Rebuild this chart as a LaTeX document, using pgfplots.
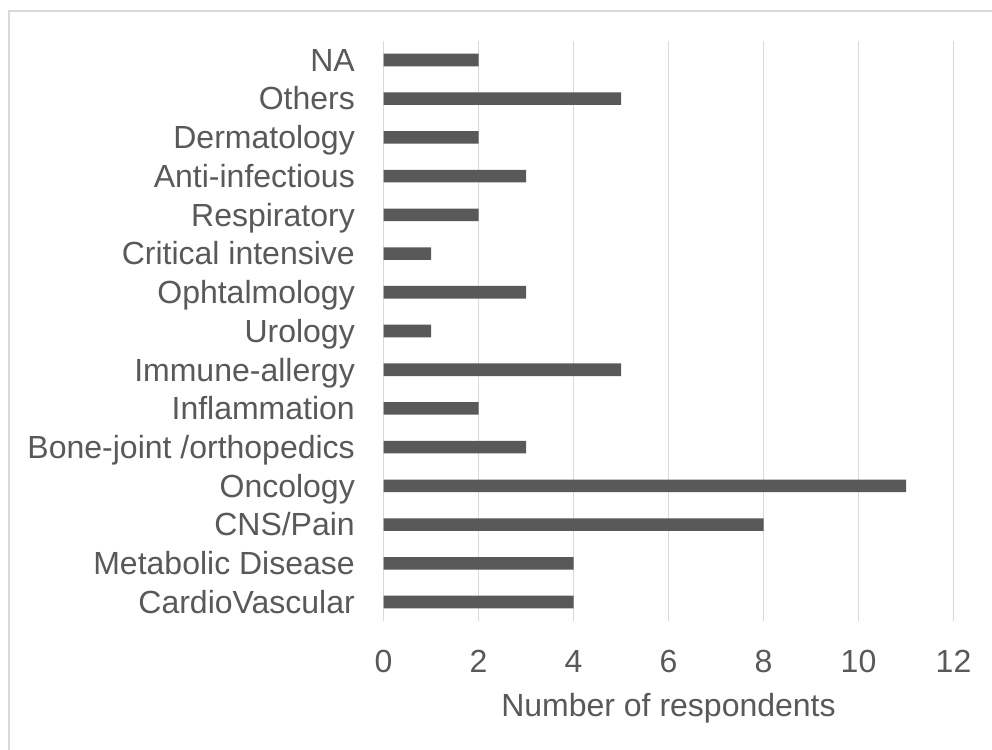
\documentclass[border=0pt]{standalone}
\usepackage{pgfplots}
\pgfplotsset{compat=1.18}
\usepackage{fontspec}
\setmainfont{Liberation Sans}
\definecolor{txt}{HTML}{595959}
\definecolor{barc}{HTML}{595959}
\definecolor{gridc}{HTML}{D9D9D9}
\begin{document}
\begin{tikzpicture}[x=1pt,y=1pt]
\useasboundingbox (0,0) rectangle (992,749);
\fill[white] (0,0) rectangle (992,749);
\draw[gridc, line width=1.5pt] (9,-5) -- (9,738) -- (1000,738);
\begin{axis}[
  at={(383.5pt,127.6pt)}, anchor=south west, scale only axis,
  width=570pt, height=580.8pt,
  xmin=0, xmax=12, ymin=-0.5, ymax=14.5,
  axis line style={draw=none},
  major tick length=0pt, tick style={draw=none},
  xtick={0,2,4,6,8,10,12},
  xticklabels={0,2,4,6,8,10,12},
  ytick={0,...,14},
  yticklabels={CardioVascular, Metabolic Disease, CNS/Pain, Oncology, Bone-joint /orthopedics, Inflammation, Immune-allergy, Urology, Ophtalmology, Critical intensive, Respiratory, Anti-infectious, Dermatology, Others, NA},
  xmajorgrids, ymajorgrids=false,
  grid style={gridc, line width=1.3pt},
  ticklabel style={font=\fontsize{32}{38}\selectfont, text=txt},
  yticklabel style={anchor=base east, inner sep=0pt, xshift=-28.5pt, yshift=-11.3pt},
  xticklabel style={anchor=base, inner sep=0pt, yshift=-50.6pt},
  xlabel={Number of respondents},
  xlabel style={at={(axis description cs:0.5,0)}, anchor=base, inner sep=0pt, yshift=-94.6pt, font=\fontsize{32}{38}\selectfont, text=txt},
  xbar, bar width=12.6pt,
]
\addplot[fill=barc, draw=none] coordinates {
  (4,0) (4,1) (8,2) (11,3) (3,4) (2,5) (5,6) (1,7) (3,8) (1,9) (2,10) (3,11) (2,12) (5,13) (2,14)
};
\end{axis}
\end{tikzpicture}
\end{document}
